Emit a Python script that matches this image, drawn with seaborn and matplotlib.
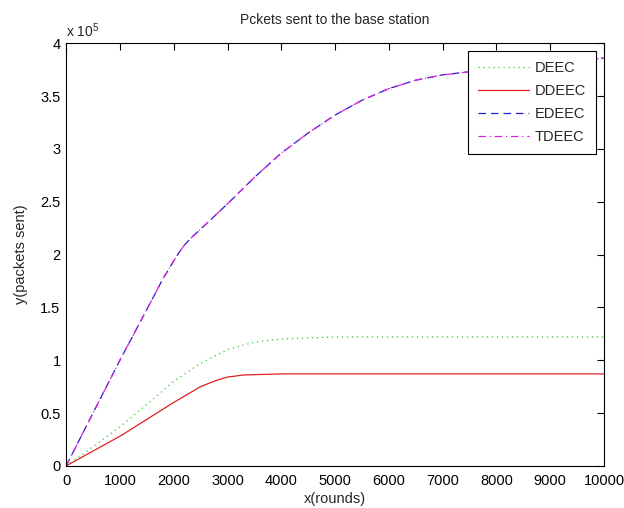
import matplotlib
matplotlib.use("Agg")
import matplotlib.pyplot as plt
import matplotlib.ticker as mticker
import seaborn as sns

# values (packets sent vs rounds)
deec_rounds = [0, 500, 1000, 1500, 2000, 2500, 3000, 3500, 4000, 4500, 5000, 10000]
deec_packets = [0, 18000, 37000, 58000, 80000, 97000, 110000, 117000, 120000, 121000, 122000, 122000]

ddeec_rounds = [0, 500, 1000, 1500, 2000, 2500, 2800, 3000, 3300, 4000, 10000]
ddeec_packets = [0, 14000, 28000, 44000, 60000, 75000, 81000, 84000, 86000, 87000, 87000]

edeec_rounds = [0, 500, 1000, 1500, 1800, 2000, 2100, 2200, 2350, 2500, 3000, 3500, 4000,
                4500, 5000, 5500, 6000, 6500, 7000, 7500, 8000, 8500, 9000, 9500, 10000]
edeec_packets = [0, 50000, 100000, 148000, 177000, 194000, 202000, 209000, 217000, 224000,
                 248000, 273000, 296000, 315000, 332000, 346000, 357000, 365000, 370000,
                 373000, 376000, 378000, 380000, 383000, 386000]
# TDEEC lies on top of EDEEC
tdeec_rounds = edeec_rounds
tdeec_packets = edeec_packets

sns.set_style("white")
plt.rcParams["font.family"] = ["Liberation Sans", "DejaVu Sans"]
plt.rcParams["mathtext.default"] = "regular"

fig = plt.figure(figsize=(6.24, 5.08), dpi=100)
ax = fig.add_axes([0.106, 0.083, 0.862, 0.832])

sns.lineplot(x=deec_rounds, y=deec_packets, ax=ax, color="#33cc33", lw=0.9,
             linestyle=(0, (1, 3)), label="DEEC")
sns.lineplot(x=ddeec_rounds, y=ddeec_packets, ax=ax, color="#e02020", lw=0.9,
             linestyle="-", label="DDEEC")
sns.lineplot(x=edeec_rounds, y=edeec_packets, ax=ax, color="#2020d0", lw=0.9,
             linestyle=(0, (6, 4)), label="EDEEC")
sns.lineplot(x=tdeec_rounds, y=tdeec_packets, ax=ax, color="#dd22dd", lw=0.9,
             linestyle=(0, (6, 3, 1, 3)), label="TDEEC")

ax.set_xlim(0, 10000)
ax.set_ylim(0, 400000)
ax.set_xticks(range(0, 10001, 1000))
ax.set_yticks([i * 50000 for i in range(9)])
ax.yaxis.set_major_formatter(mticker.FuncFormatter(lambda v, p: "%g" % (v / 1e5)))
ax.tick_params(direction="in", length=5, width=0.8, top=True, right=True,
               labelsize=10.5, colors="black", pad=4)
ax.tick_params(axis="x", pad=6)
for s in ax.spines.values():
    s.set_visible(True)
    s.set_color("black")
    s.set_linewidth(0.8)

ax.text(0.0, 1.008, "x 10$^5$", transform=ax.transAxes, fontsize=10, ha="left", va="bottom")
ax.set_title("Pckets sent to the base station", fontsize=10, pad=14)
ax.set_xlabel("x(rounds)", fontsize=10.5, labelpad=3)
ax.set_ylabel("y(packets sent)", fontsize=10.5, labelpad=9)

leg = ax.legend(loc="upper right", fancybox=False, edgecolor="black", framealpha=1,
                fontsize=10.5, handlelength=3.5, handletextpad=0.35, borderpad=0.7,
                labelspacing=0.6, borderaxespad=0.55)
leg.get_frame().set_linewidth(0.8)

fig.savefig("out.png", dpi=100, facecolor="white")
